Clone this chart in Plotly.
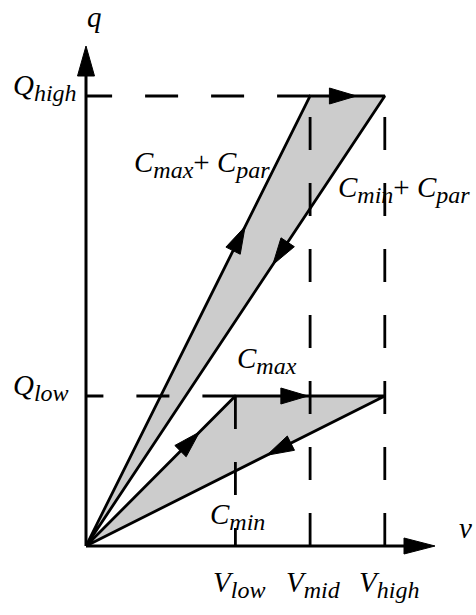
import math
import plotly.graph_objects as go

# Operating points of the charge/voltage cycle
V_LOW, V_MID, V_HIGH = 2.0, 3.0, 4.0
Q_LOW, Q_HIGH = 2.0, 6.0

# Cycle without parasitic capacitance: charge along Cmax, hold Q, return along Cmin
low_loop_v = [0, V_LOW, V_HIGH, 0]
low_loop_q = [0, Q_LOW, Q_LOW, 0]
# Cycle with parasitic capacitance in parallel
high_loop_v = [0, V_MID, V_HIGH, 0]
high_loop_q = [0, Q_HIGH, Q_HIGH, 0]

# Arrow tip location on each loop segment, as a fraction of the segment
low_arrow_t = [0.76, 0.485, 0.395]
high_arrow_t = [0.71, 0.62, 0.375]

# Labels
v_tick_labels = ["low", "mid", "high"]
q_tick_labels = ["high", "low"]
curve_names = [("max", "par"), ("min", "par"), ("max", None), ("min", None)]

# Pixel scale of one data unit (used to keep arrowheads undistorted)
SX, SY = 74.7, 75.0
X0_PX, Y0_PX = 86, 546
W_PX, H_PX = 476, 615

FONT = "Liberation Serif"
MAIN_SIZE = 29
SUB_SIZE = 24
LINE_W = 2.8


def sub(base, s):
    return (f"<i>{base}<sub><span style='font-size:{SUB_SIZE}px'>{s}</span>"
            f"</sub></i>")


def arrow_path(x0, y0, x1, y1, t, length=27.0, half=8.0):
    tx = x0 + t * (x1 - x0)
    ty = y0 + t * (y1 - y0)
    dx, dy = (x1 - x0) * SX, (y1 - y0) * SY
    n = math.hypot(dx, dy)
    ux, uy = dx / n, dy / n
    bx = tx - length * ux / SX
    by = ty - length * uy / SY
    px, py = -uy * half / SX, ux * half / SY
    return (f"M{tx},{ty} L{bx + px},{by + py} "
            f"L{bx - px},{by - py} Z")


fig = go.Figure()

for vs, qs in [(low_loop_v, low_loop_q), (high_loop_v, high_loop_q)]:
    fig.add_trace(go.Scatter(
        x=vs, y=qs, mode="lines", fill="toself", fillcolor="#cccccc",
        line=dict(color="black", width=LINE_W), hoverinfo="skip"))

shapes = []

# Dashed guide lines (each starts at the end where its dash pattern is anchored)
dash = "33px,33px"
guides = [
    (V_MID, Q_HIGH, 0, Q_HIGH),
    (V_LOW, Q_LOW, 0, Q_LOW),
    (V_LOW, Q_LOW, V_LOW, 0),
    (V_MID, 0, V_MID, Q_HIGH),
    (V_HIGH, 0, V_HIGH, Q_HIGH),
]
for x0, y0, x1, y1 in guides:
    shapes.append(dict(type="line", xref="x", yref="y", x0=x0, y0=y0,
                       x1=x1, y1=y1, layer="above",
                       line=dict(color="black", width=LINE_W, dash=dash)))

# Direction arrows along both loops
for vs, qs, ts in [(low_loop_v, low_loop_q, low_arrow_t),
                   (high_loop_v, high_loop_q, high_arrow_t)]:
    for i, t in enumerate(ts):
        shapes.append(dict(type="path", xref="x", yref="y", layer="above",
                           path=arrow_path(vs[i], qs[i], vs[i + 1], qs[i + 1], t),
                           fillcolor="black", line=dict(color="black", width=1)))

# Axes with arrowheads
v_end = (435 - X0_PX) / SX
q_end = (Y0_PX - 46) / SY
shapes.append(dict(type="line", xref="x", yref="y", x0=0, y0=0,
                   x1=v_end - 20 / SX, y1=0, layer="above",
                   line=dict(color="black", width=3)))
shapes.append(dict(type="line", xref="x", yref="y", x0=0, y0=0,
                   x1=0, y1=q_end - 20 / SY, layer="above",
                   line=dict(color="black", width=3)))
shapes.append(dict(type="path", xref="x", yref="y", layer="above",
                   path=arrow_path(0, 0, v_end, 0, 1.0, length=31, half=8),
                   fillcolor="black", line=dict(color="black", width=1)))
shapes.append(dict(type="path", xref="x", yref="y", layer="above",
                   path=arrow_path(0, 0, 0, q_end, 1.0, length=30, half=8.5),
                   fillcolor="black", line=dict(color="black", width=1)))

annotations = []


def add_label(text, x, y, xanchor="left"):
    annotations.append(dict(text=text, x=x, y=y, xref="x", yref="y",
                            xanchor=xanchor, yanchor="middle", showarrow=False,
                            font=dict(family=FONT, size=MAIN_SIZE, color="black")))


def curve_text(a, b):
    t = sub("C", a)
    if b:
        t += "+ " + sub("C", b)
    return t


curve_pos = [(0.62, 5.09), (3.34, 4.76), (1.99, 2.47), (1.63, 0.40)]
for (a, b), (x, y) in zip(curve_names, curve_pos):
    add_label(curve_text(a, b), x, y)

for lab, v in zip(v_tick_labels, [V_LOW, V_MID, V_HIGH]):
    add_label(sub("V", lab), v + 0.05, -0.51, xanchor="center")

for lab, q in zip(q_tick_labels, [Q_HIGH, Q_LOW]):
    add_label(sub("Q", lab), -1.0, q + 0.12)

add_label("<i>q</i>", -0.02, 7.06)
add_label("<i>v</i>", 4.96, 0.24)

fig.update_layout(
    width=W_PX, height=H_PX,
    margin=dict(l=0, r=0, t=0, b=0, pad=0),
    paper_bgcolor="white", plot_bgcolor="white",
    showlegend=False,
    shapes=shapes, annotations=annotations,
    xaxis=dict(visible=False, range=[-X0_PX / SX, (W_PX - X0_PX) / SX],
               fixedrange=True),
    yaxis=dict(visible=False, range=[(Y0_PX - H_PX) / SY, Y0_PX / SY],
               fixedrange=True),
)

fig.write_html("out.html")
